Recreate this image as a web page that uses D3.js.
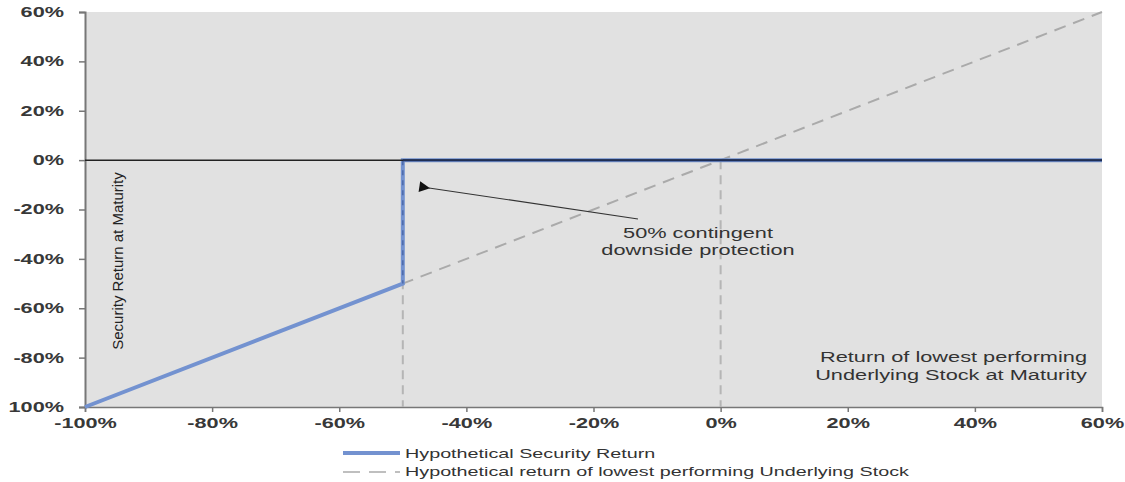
<!DOCTYPE html>
<html>
<head>
<meta charset="utf-8">
<script src="https://cdn.jsdelivr.net/npm/d3@7"></script>
<style>
  body { margin: 0; background: #fff; }
  text { font-family: "Liberation Sans", Arial, sans-serif; fill: #333; }
</style>
</head>
<body>
<script>
// data (percent)
var securityX = [-100, -50, -50, 60];
var securityY = [-100, -50, 0, 0];
var stockX = [-100, 60];
var stockY = [-100, 60];
var guideX = [-50, 0];
var xTicks = [-100, -80, -60, -40, -20, 0, 20, 40, 60];
var xTickLabels = ["-100%", "-80%", "-60%", "-40%", "-20%", "0%", "20%", "40%", "60%"];
var yTicks = [60, 40, 20, 0, -20, -40, -60, -80, -100];
var yTickLabels = ["60%", "40%", "20%", "0%", "-20%", "-40%", "-60%", "-80%", "100%"];
var legendLabels = ["Hypothetical Security Return", "Hypothetical return of lowest performing Underlying Stock"];

window.onload = function () {
    var w = 1125, h = 482;
    var sx = 1.45; //the source text is drawn wide
    var tx = 1.55; //tick labels a bit wider still
    var svg = d3.select("body").append("svg")
        .attr("width", w)
        .attr("height", h);

    var x = d3.scaleLinear().domain([-100, 60]).range([85, 1102]);
    var y = d3.scaleLinear().domain([-100, 60]).range([407, 12]);

    //grey plot background
    svg.append("rect")
        .attr("x", x(-100))
        .attr("y", y(60))
        .attr("width", x(60) - x(-100))
        .attr("height", y(-100) - y(60))
        .style("fill", "#e1e1e1");

    //axes
    var yAxis = d3.axisLeft(y)
        .tickValues(yTicks)
        .tickSize(6)
        .tickFormat(function (d, i) { return yTickLabels[i]; });
    var gy = svg.append("g")
        .attr("transform", "translate(" + x(-100) + ",0)")
        .call(yAxis);
    gy.select(".domain").style("stroke", "#777").style("stroke-width", 2);
    gy.selectAll(".tick line").style("stroke", "#777").style("stroke-width", 1.5);
    gy.selectAll(".tick text")
        .attr("x", -21 / tx)
        .attr("transform", "scale(" + tx + ",1)")
        .style("font-family", "'Liberation Sans', sans-serif")
        .style("font-size", "14px")
        .style("font-weight", "bold")
        .style("fill", "#383838");

    var xAxis = d3.axisBottom(x)
        .tickValues(xTicks)
        .tickSize(5)
        .tickFormat(function (d, i) { return xTickLabels[i]; });
    var gx = svg.append("g")
        .attr("transform", "translate(0," + y(-100) + ")")
        .call(xAxis);
    gx.select(".domain").style("stroke", "#777").style("stroke-width", 1.5);
    gx.selectAll(".tick line").style("stroke", "#777").style("stroke-width", 1.5);
    gx.selectAll(".tick text")
        .attr("y", 11)
        .attr("transform", "scale(" + tx + ",1)")
        .style("font-family", "'Liberation Sans', sans-serif")
        .style("font-size", "14px")
        .style("font-weight", "bold")
        .style("fill", "#383838");

    //vertical dashed guides
    svg.selectAll(".guide")
        .data(guideX)
        .enter()
        .append("line")
        .attr("class", "guide")
        .attr("x1", function (d) { return x(d); })
        .attr("x2", function (d) { return x(d); })
        .attr("y1", y(0))
        .attr("y2", y(-100))
        .style("stroke", "#b5b5b5")
        .style("stroke-width", 2)
        .style("stroke-dasharray", "9,6");

    //stock diagonal
    var line = d3.line()
        .x(function (d) { return x(d[0]); })
        .y(function (d) { return y(d[1]); });
    svg.append("path")
        .datum(d3.zip(stockX, stockY))
        .attr("d", line)
        .style("fill", "none")
        .style("stroke", "#aaaaaa")
        .style("stroke-width", 2)
        .style("stroke-dasharray", "12,8");

    //security payoff
    svg.append("path")
        .datum(d3.zip(securityX, securityY))
        .attr("d", line)
        .style("fill", "none")
        .style("stroke", "#7392d0")
        .style("stroke-width", 4);

    //dashed guide showing through the blue step
    svg.append("line")
        .attr("x1", x(-50)).attr("x2", x(-50))
        .attr("y1", y(0)).attr("y2", y(-50))
        .style("stroke", "#4d6aa8")
        .style("stroke-width", 1.5)
        .style("stroke-dasharray", "5,5");

    //zero line
    svg.append("line")
        .attr("x1", x(-100)).attr("x2", x(60))
        .attr("y1", y(0)).attr("y2", y(0))
        .style("stroke", "#222")
        .style("stroke-width", 1.5);
    svg.append("line")
        .attr("x1", x(-50)).attr("x2", x(60))
        .attr("y1", y(0)).attr("y2", y(0))
        .style("stroke", "#1f2e55")
        .style("stroke-width", 2);

    //annotation arrow
    svg.append("defs").append("marker")
        .attr("id", "arrow")
        .attr("viewBox", "0 0 10 10")
        .attr("refX", 1).attr("refY", 5)
        .attr("markerWidth", 12).attr("markerHeight", 9)
        .attr("orient", "auto")
        .append("path")
        .attr("d", "M10,0 L0,5 L10,10 z")
        .style("fill", "#111");
    svg.append("line")
        .attr("x1", 638).attr("y1", 219)
        .attr("x2", 429).attr("y2", 188)
        .style("stroke", "#333")
        .style("stroke-width", 1.2)
        .attr("marker-end", "url(#arrow)");

    //wide text helper
    function wideText(px, py, anchor, size, str) {
        return svg.append("text")
            .attr("transform", "translate(" + px + "," + py + ") scale(" + sx + ",1)")
            .attr("text-anchor", anchor)
            .style("font-size", size + "px")
            .text(str);
    }

    wideText(698, 238, "middle", 15, "50% contingent");
    wideText(698, 255, "middle", 15, "downside protection");

    //axis titles inside the plot
    svg.append("text")
        .attr("transform", "translate(123,261) rotate(-90)")
        .attr("text-anchor", "middle")
        .style("font-family", "'Liberation Sans Narrow', 'Liberation Sans', sans-serif")
        .style("font-size", "15px")
        .style("fill", "#222")
        .text("Security Return at Maturity");

    wideText(1087, 362, "end", 15, "Return of lowest performing");
    wideText(1087, 380, "end", 15, "Underlying Stock at Maturity");

    //legend
    var legend = svg.append("g").attr("transform", "translate(343,453)");
    legend.append("line")
        .attr("x1", 0).attr("x2", 57).attr("y1", 0).attr("y2", 0)
        .style("stroke", "#7392d0").style("stroke-width", 4);
    legend.append("line")
        .attr("x1", 0).attr("x2", 57).attr("y1", 19).attr("y2", 19)
        .style("stroke", "#aaaaaa").style("stroke-width", 1.5)
        .style("stroke-dasharray", "17,9");
    legend.selectAll(".legendText")
        .data(legendLabels)
        .enter()
        .append("text")
        .attr("class", "legendText")
        .attr("transform", function (d, i) {
            return "translate(62," + (i * 18 + 5) + ") scale(1.52,1)";
        })
        .style("font-size", "13px")
        .style("fill", "#333")
        .text(function (d) { return d; });
};
</script>
</body>
</html>
